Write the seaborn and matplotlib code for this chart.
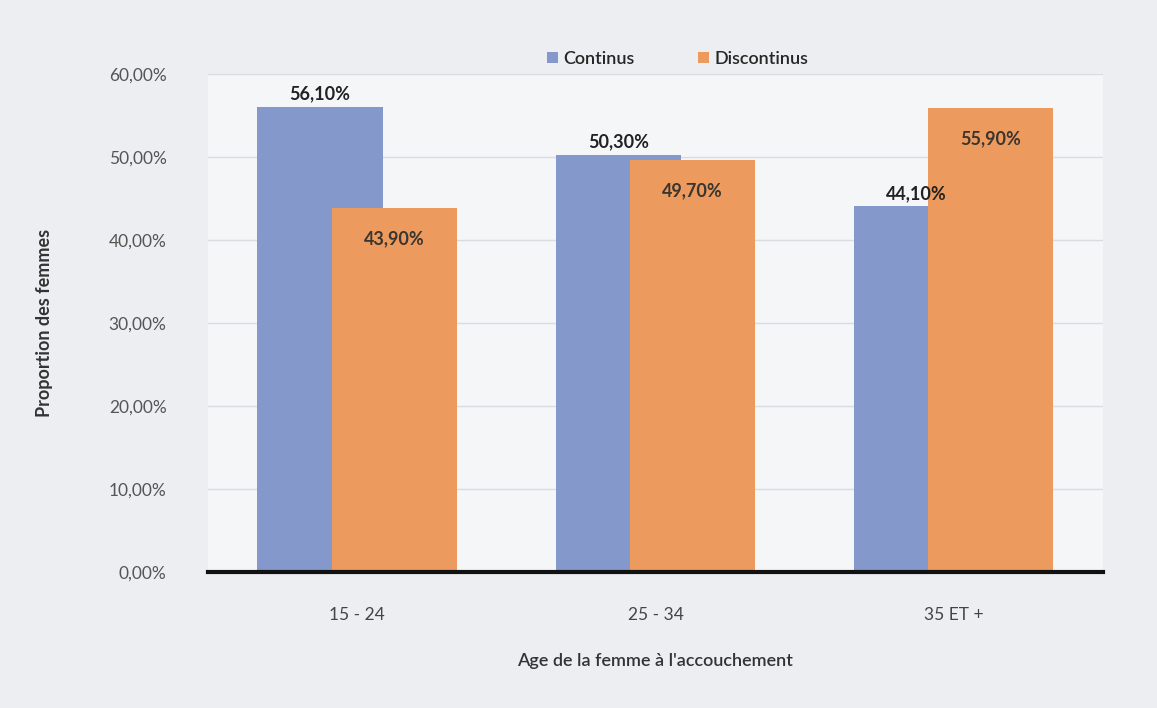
import pandas as pd
import matplotlib.pyplot as plt
import seaborn as sns
import matplotlib.ticker as ticker

# Values
age_groups = ["15 - 24", "25 - 34", "35 ET +"]
continus = [56.1, 50.3, 44.1]
discontinus = [43.9, 49.7, 55.9]
series_names = ["Continus", "Discontinus"]
y_ticks = [0, 10, 20, 30, 40, 50, 60]

df = pd.DataFrame({
    "age": age_groups * 2,
    "serie": [series_names[0]] * 3 + [series_names[1]] * 3,
    "value": continus + discontinus,
})

palette = {"Continus": "#8498CB", "Discontinus": "#EC9A5D"}

sns.set_theme(style="white")
plt.rcParams["font.family"] = ["Lato", "DejaVu Sans"]

fig = plt.figure(figsize=(11.57, 7.08), dpi=100, facecolor="#ECEEF1")
ax = fig.add_axes([0.18, 0.192, 0.773, 0.703])
ax.set_facecolor("#F5F6F8")

sns.barplot(data=df, x="age", y="value", hue="serie", hue_order=series_names,
            palette=palette, width=0.5, dodge=True, saturation=1,
            edgecolor="none", linewidth=0, ax=ax, zorder=3)

# Excel-like overlapping bars: widen each bar around its own centre
bar_w = 0.42
for p in ax.patches:
    cx = p.get_x() + p.get_width() / 2
    p.set_width(bar_w)
    p.set_x(cx - bar_w / 2)

ax.set_ylim(0, 60)
ax.set_xlim(-0.5, 2.5)
ax.set_yticks(y_ticks)
ax.yaxis.set_major_formatter(ticker.FuncFormatter(lambda v, p: f"{v:.2f}%".replace(".", ",")))
ax.tick_params(axis="y", length=0, labelsize=12.5, labelcolor="#555555", pad=30)
ax.tick_params(axis="x", length=0, labelsize=12.5, labelcolor="#444444", pad=25)
ax.grid(axis="y", color="#DADCE0", linewidth=1, zorder=0)

for s in ["top", "right", "left"]:
    ax.spines[s].set_visible(False)
ax.spines["bottom"].set_color("#111111")
ax.spines["bottom"].set_linewidth(3)
ax.spines["bottom"].set_zorder(5)

# data labels: blue above the bar, orange inside the top
bars_c = ax.containers[0]
bars_d = ax.containers[1]
for p, v in zip(bars_c, continus):
    ax.annotate(f"{v:.2f}%".replace(".", ","), (p.get_x() + p.get_width() / 2, v),
                xytext=(0, 3), textcoords="offset points", ha="center", va="bottom",
                fontsize=13, fontweight="bold", color="#222222", zorder=6)
for p, v in zip(bars_d, discontinus):
    ax.annotate(f"{v:.2f}%".replace(".", ","), (p.get_x() + p.get_width() / 2, v),
                xytext=(0, -22), textcoords="offset points", ha="center", va="center",
                fontsize=13, fontweight="bold", color="#3A3530", zorder=6)

ax.set_xlabel("Age de la femme à l'accouchement", fontsize=13, color="#333333",
              fontweight="semibold", labelpad=22)
ax.set_ylabel("Proportion des femmes", fontsize=13, color="#333333",
              fontweight="bold", labelpad=40)

handles, labels = ax.get_legend_handles_labels()
ax.legend(handles, labels, loc="upper center", bbox_to_anchor=(0.525, 1.08), ncol=2,
          frameon=False, handlelength=0.6, handleheight=0.6, handletextpad=0.3,
          columnspacing=3.5, prop={"size": 13, "weight": "semibold"})

fig.savefig("out.png", dpi=100, facecolor=fig.get_facecolor())
